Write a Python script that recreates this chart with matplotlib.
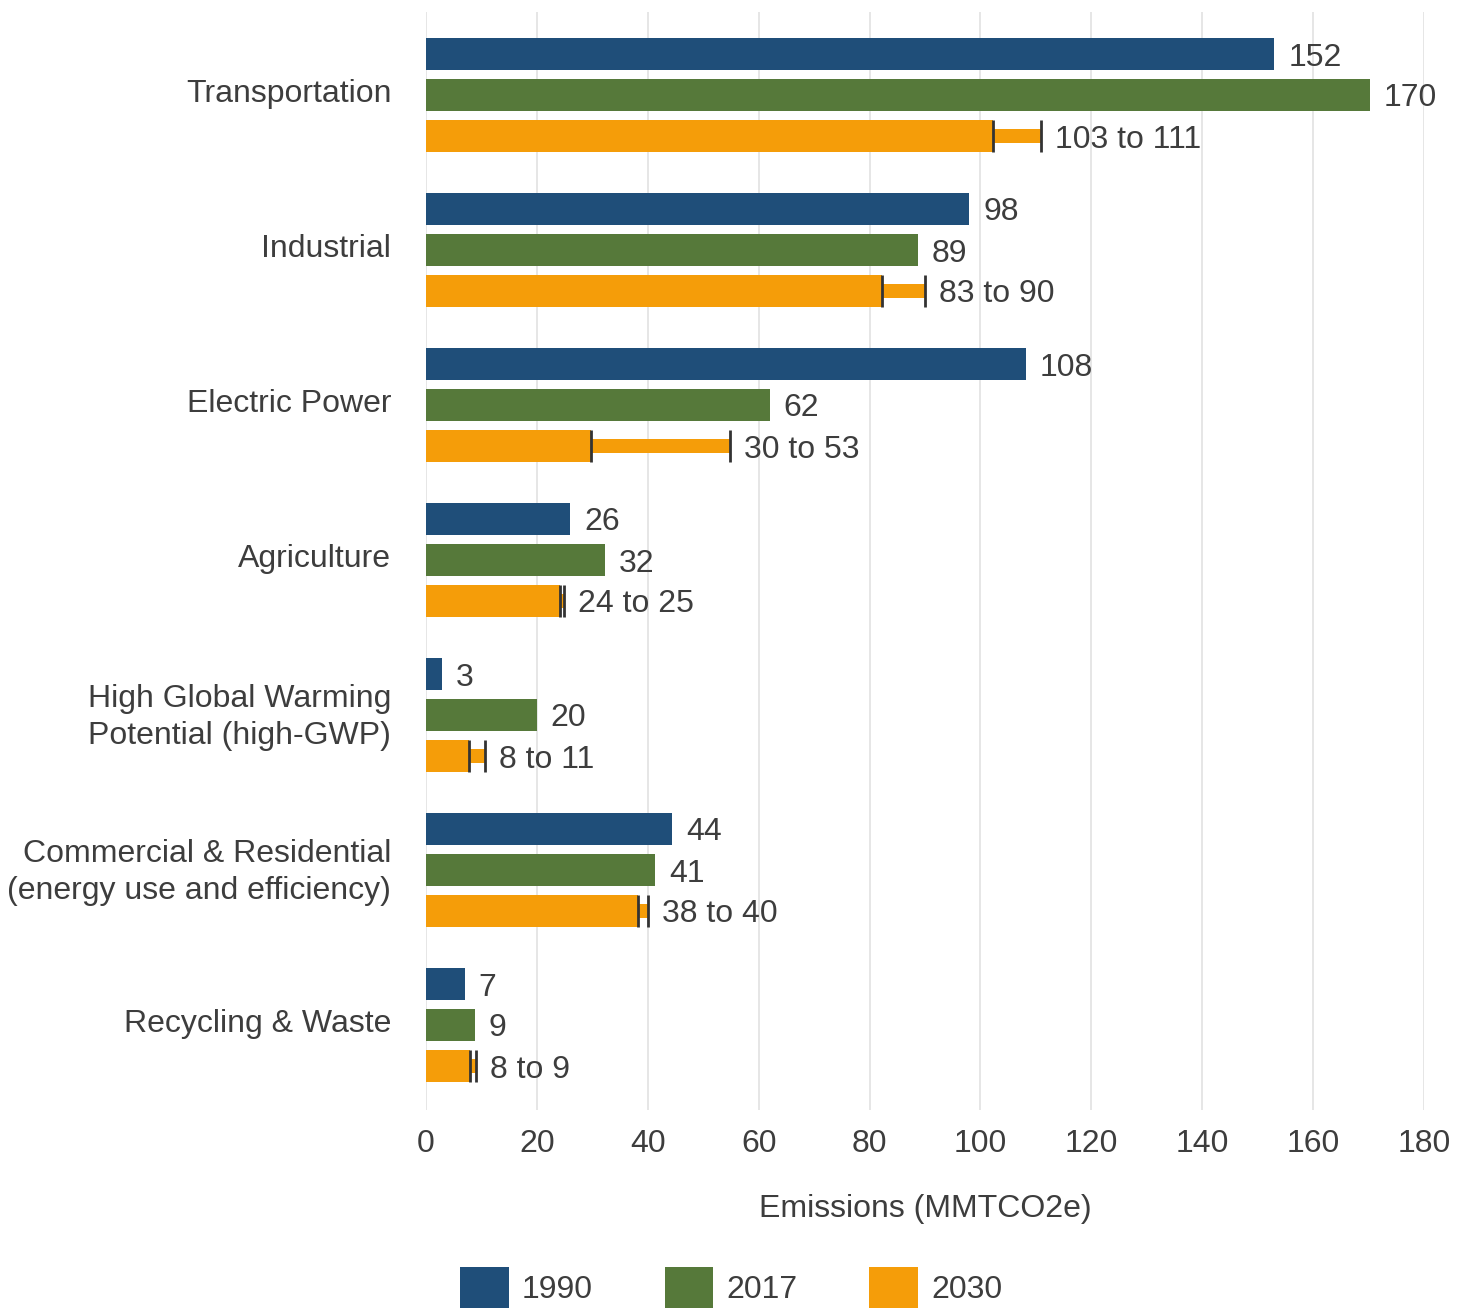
import matplotlib
matplotlib.use("Agg")
import matplotlib.pyplot as plt
import matplotlib.transforms as mtransforms
from matplotlib.patches import Patch

# sectors, top to bottom
sectors = [
    "Transportation",
    "Industrial",
    "Electric Power",
    "Agriculture",
    "High Global Warming\nPotential (high-GWP)",
    "Commercial & Residential\n(energy use and efficiency)",
    "Recycling & Waste",
]
# bar lengths (MMTCO2e)
v1990 = [153.0, 98.0, 108.2, 26.0, 2.9, 44.4, 7.0]
v2017 = [170.3, 88.7, 62.0, 32.3, 20.0, 41.3, 8.8]
lo2030 = [102.3, 82.3, 29.8, 24.2, 7.8, 38.2, 7.9]
hi2030 = [110.9, 90.0, 54.8, 24.9, 10.6, 40.0, 9.0]
# printed labels
lab1990 = ["152", "98", "108", "26", "3", "44", "7"]
lab2017 = ["170", "89", "62", "32", "20", "41", "9"]
lab2030 = ["103 to 111", "83 to 90", "30 to 53", "24 to 25", "8 to 11", "38 to 40", "8 to 9"]
years = ["1990", "2017", "2030"]
xticks = [0, 20, 40, 60, 80, 100, 120, 140, 160, 180]

C1990 = "#1f4e79"
C2017 = "#56793a"
C2030 = "#f59d09"
TXT = "#3d3d3d"
FS = 23

plt.rcParams["font.family"] = ["Liberation Sans", "DejaVu Sans"]

fig = plt.figure(figsize=(14.65, 13.09), dpi=100)
ax = fig.add_axes([426 / 1465, 1 - 1110 / 1309, 998 / 1465, 1098 / 1309])

step = 41 / 155
bh = 32 / 155
thin = 14 / 155

for i in range(len(sectors)):
    y0, y1, y2 = i - step, i, i + step
    ax.barh(y0, v1990[i], height=bh, color=C1990, zorder=2)
    ax.barh(y1, v2017[i], height=bh, color=C2017, zorder=2)
    ax.barh(y2, lo2030[i], height=bh, color=C2030, zorder=2)
    ax.barh(y2, hi2030[i] - lo2030[i], left=lo2030[i], height=thin, color=C2030, zorder=2)
    for xv in (lo2030[i], hi2030[i]):
        ax.plot([xv, xv], [y2 - bh / 2, y2 + bh / 2], color="#333333", lw=2, zorder=3,
                solid_capstyle="butt")
    for xv, yv, s in ((v1990[i], y0, lab1990[i]), (v2017[i], y1, lab2017[i]),
                      (hi2030[i], y2, lab2030[i])):
        ax.annotate(s, (xv, yv), xytext=(10, 0), textcoords="offset points",
                    ha="left", va="center_baseline", fontsize=FS, color=TXT)

ax.set_xlim(0, 180)
ax.set_ylim(len(sectors) - 1 + 85 / 155, -83 / 155)
ax.set_xticks(xticks)
ax.set_yticks(range(len(sectors)))
ax.set_yticklabels(sectors, fontsize=FS, color=TXT, linespacing=1.3)
ax.tick_params(axis="both", length=0, labelsize=FS, labelcolor=TXT)
ax.tick_params(axis="y", pad=25)
ax.tick_params(axis="x", pad=14)
# nudge category labels up a few pixels
lift = mtransforms.ScaledTranslation(0, 0.045, fig.dpi_scale_trans)
for lbl in ax.get_yticklabels():
    lbl.set_transform(lbl.get_transform() + lift)
ax.grid(True, axis="x", color="#e2e2e2", lw=1.2, zorder=0)
ax.set_axisbelow(True)
for sp in ax.spines.values():
    sp.set_visible(False)
ax.set_xlabel("Emissions (MMTCO2e)", fontsize=FS, color=TXT, labelpad=25)

handles = [Patch(facecolor=c, edgecolor="none") for c in (C1990, C2017, C2030)]
fig.legend(handles, years, loc="center", bbox_to_anchor=(0.499, 0.0165), ncol=3,
           frameon=False, fontsize=FS, labelcolor=TXT, handlelength=1.53,
           handleheight=1.6, handletextpad=0.4, columnspacing=2.25)

fig.savefig("out.png", dpi=100)
